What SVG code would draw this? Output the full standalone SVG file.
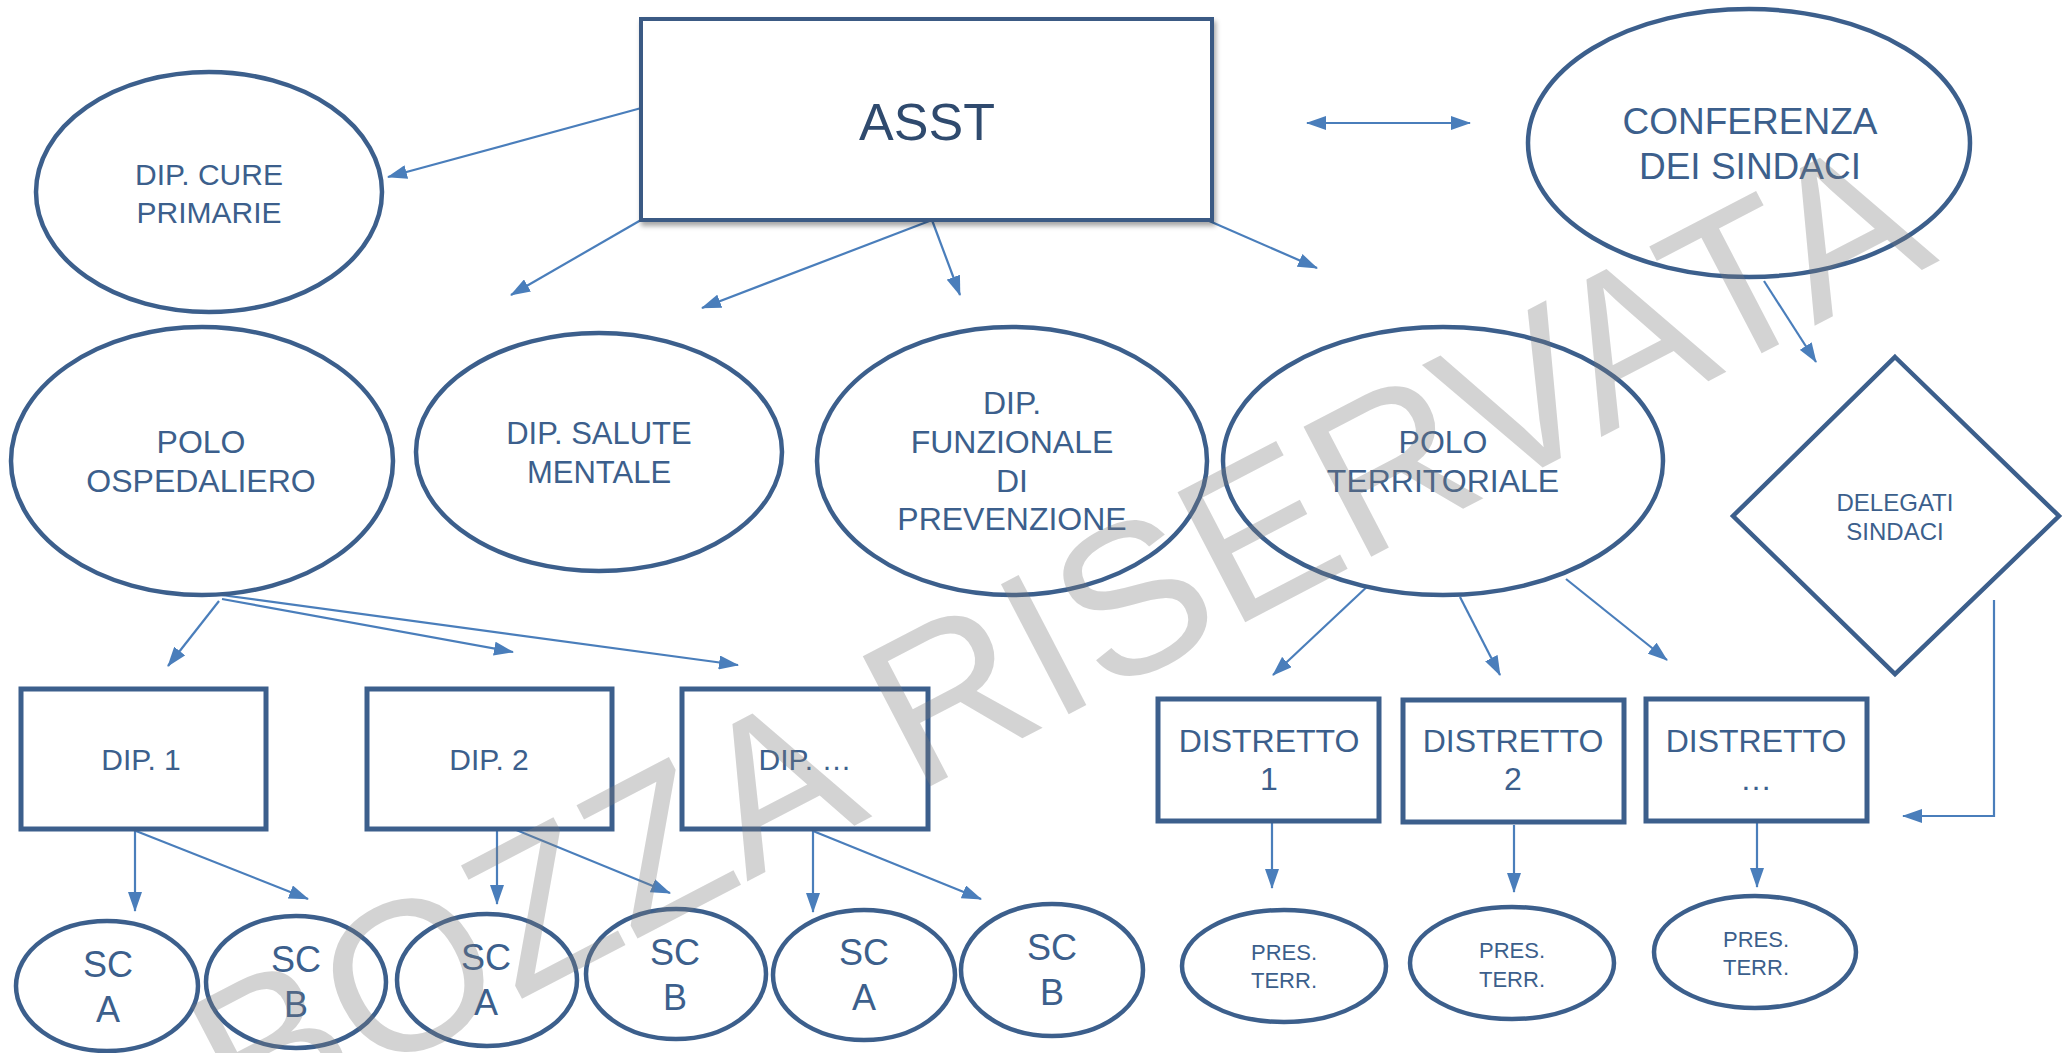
<svg xmlns="http://www.w3.org/2000/svg" width="2063" height="1053" viewBox="0 0 2063 1053">
<style>
.n{fill:#fff;stroke:#3C5F8C;stroke-width:4.5}
.b{fill:#fff;stroke:#3C5F8C;stroke-width:5}
.t{font-family:"Liberation Sans",Arial,sans-serif;fill:#3C5F8C;text-anchor:middle}
.c{stroke:#4A7EBB;stroke-width:2.2;fill:none;marker-end:url(#ah)}
.wm{font-family:"Liberation Sans",Arial,sans-serif;font-size:213px;fill:#7A7A7A;fill-opacity:0.33}
</style>
<defs>
<marker id="ah" viewBox="0 0 20 14" refX="19" refY="7" markerWidth="20" markerHeight="14" markerUnits="userSpaceOnUse" orient="auto">
<path d="M0,0 L20,7 L0,14 Z" fill="#4A7EBB"/>
</marker>
<marker id="as" viewBox="0 0 20 14" refX="1" refY="7" markerWidth="20" markerHeight="14" markerUnits="userSpaceOnUse" orient="auto">
<path d="M20,0 L0,7 L20,14 Z" fill="#4A7EBB"/>
</marker>
<filter id="sh" x="-5%" y="-5%" width="110%" height="115%">
<feDropShadow dx="2" dy="4" stdDeviation="2.5" flood-color="#000" flood-opacity="0.35"/>
</filter>
</defs>
<g id="connectors">
<line class="c" x1="645" y1="107" x2="388" y2="177"/>
<line class="c" x1="641" y1="220" x2="511" y2="295"/>
<line class="c" x1="932" y1="220" x2="702" y2="308"/>
<line class="c" x1="932" y1="220" x2="960" y2="295"/>
<line class="c" x1="1207" y1="220" x2="1317" y2="268"/>
<line class="c" x1="1307" y1="123" x2="1470" y2="123" marker-start="url(#as)"/>
<line class="c" x1="1764" y1="281" x2="1816" y2="362"/>
<polyline class="c" points="1994,600 1994,816 1903,816"/>
<line class="c" x1="1371" y1="583" x2="1273" y2="675"/>
<line class="c" x1="1460" y1="597" x2="1500" y2="675"/>
<line class="c" x1="1566" y1="579" x2="1667" y2="660"/>
<line class="c" x1="1272" y1="823" x2="1272" y2="888"/>
<line class="c" x1="1514" y1="825" x2="1514" y2="892"/>
<line class="c" x1="1757" y1="823" x2="1757" y2="887"/>
<line class="c" x1="219" y1="601" x2="168" y2="666"/>
<line class="c" x1="222" y1="599" x2="513" y2="652"/>
<line class="c" x1="214" y1="594" x2="738" y2="665"/>
<line class="c" x1="135" y1="831" x2="135" y2="911"/>
<line class="c" x1="136" y1="831" x2="308" y2="899"/>
<line class="c" x1="497" y1="823" x2="497" y2="904"/>
<line class="c" x1="499" y1="823" x2="670" y2="893"/>
<line class="c" x1="813" y1="831" x2="813" y2="912"/>
<line class="c" x1="813" y1="831" x2="981" y2="899"/>
</g>
<g id="asst">
<rect x="641" y="19" width="571" height="201" fill="#fff" stroke="#3A5A84" stroke-width="4" filter="url(#sh)"/>
<text class="t" x="927" y="140" font-size="52" style="fill:#2F4A6E">ASST</text>
</g>
<g id="dip-cure-primarie">
<ellipse class="n" cx="209" cy="192" rx="173" ry="120"/>
<text class="t" x="209" y="185" font-size="30">DIP. CURE</text>
<text class="t" x="209" y="223" font-size="30">PRIMARIE</text>
</g>
<g id="conferenza">
<ellipse class="n" cx="1749" cy="143" rx="221" ry="134"/>
<text class="t" x="1750" y="134" font-size="37">CONFERENZA</text>
<text class="t" x="1750" y="179" font-size="37">DEI SINDACI</text>
</g>
<g id="polo-ospedaliero">
<ellipse class="n" cx="202" cy="461" rx="191" ry="134"/>
<text class="t" x="201" y="453" font-size="32">POLO</text>
<text class="t" x="201" y="492" font-size="32">OSPEDALIERO</text>
</g>
<g id="dip-salute-mentale">
<ellipse class="n" cx="599" cy="452" rx="183" ry="119"/>
<text class="t" x="599" y="444" font-size="31">DIP. SALUTE</text>
<text class="t" x="599" y="483" font-size="31">MENTALE</text>
</g>
<g id="dip-prevenzione">
<ellipse class="n" cx="1012" cy="461" rx="195" ry="134"/>
<text class="t" x="1012" y="414" font-size="32">DIP.</text>
<text class="t" x="1012" y="453" font-size="32">FUNZIONALE</text>
<text class="t" x="1012" y="492" font-size="32">DI</text>
<text class="t" x="1012" y="530" font-size="32">PREVENZIONE</text>
</g>
<g id="polo-territoriale">
<ellipse class="n" cx="1443" cy="461" rx="220" ry="134"/>
<text class="t" x="1443" y="453" font-size="32">POLO</text>
<text class="t" x="1443" y="492" font-size="32">TERRITORIALE</text>
</g>
<g id="delegati-sindaci">
<polygon class="n" points="1895,357 2059,516 1895,674 1733,516"/>
<text class="t" x="1895" y="511" font-size="24">DELEGATI</text>
<text class="t" x="1895" y="540" font-size="24">SINDACI</text>
</g>
<g id="dip1">
<rect class="b" x="21" y="689" width="245" height="140"/>
<text class="t" x="141" y="770" font-size="30">DIP. 1</text>
</g>
<g id="dip2">
<rect class="b" x="367" y="689" width="245" height="140"/>
<text class="t" x="489" y="770" font-size="30">DIP. 2</text>
</g>
<g id="dip3">
<rect class="b" x="682" y="689" width="246" height="140"/>
<text class="t" x="805" y="770" font-size="30">DIP. …</text>
</g>
<g id="distretto1">
<rect class="b" x="1158" y="699" width="221" height="122"/>
<text class="t" x="1269" y="752" font-size="32">DISTRETTO</text>
<text class="t" x="1269" y="790" font-size="32">1</text>
</g>
<g id="distretto2">
<rect class="b" x="1403" y="700" width="221" height="122"/>
<text class="t" x="1513" y="752" font-size="32">DISTRETTO</text>
<text class="t" x="1513" y="790" font-size="32">2</text>
</g>
<g id="distretto3">
<rect class="b" x="1646" y="699" width="221" height="122"/>
<text class="t" x="1756" y="752" font-size="32">DISTRETTO</text>
<text class="t" x="1756" y="790" font-size="32">…</text>
</g>
<g id="sc1">
<ellipse class="n" cx="107" cy="986" rx="91" ry="65"/>
<text class="t" x="108" y="977" font-size="36">SC</text>
<text class="t" x="108" y="1022" font-size="36">A</text>
</g>
<g id="sc2">
<ellipse class="n" cx="296" cy="982" rx="90" ry="66"/>
<text class="t" x="296" y="972" font-size="36">SC</text>
<text class="t" x="296" y="1017" font-size="36">B</text>
</g>
<g id="sc3">
<ellipse class="n" cx="487" cy="980" rx="90" ry="66"/>
<text class="t" x="486" y="970" font-size="36">SC</text>
<text class="t" x="486" y="1015" font-size="36">A</text>
</g>
<g id="sc4">
<ellipse class="n" cx="676" cy="974" rx="90" ry="65"/>
<text class="t" x="675" y="965" font-size="36">SC</text>
<text class="t" x="675" y="1010" font-size="36">B</text>
</g>
<g id="sc5">
<ellipse class="n" cx="864" cy="975" rx="91" ry="65"/>
<text class="t" x="864" y="965" font-size="36">SC</text>
<text class="t" x="864" y="1010" font-size="36">A</text>
</g>
<g id="sc6">
<ellipse class="n" cx="1052" cy="970" rx="91" ry="66"/>
<text class="t" x="1052" y="960" font-size="36">SC</text>
<text class="t" x="1052" y="1005" font-size="36">B</text>
</g>
<g id="pres1">
<ellipse class="n" cx="1284" cy="966" rx="102" ry="56"/>
<text class="t" x="1284" y="960" font-size="22">PRES.</text>
<text class="t" x="1284" y="988" font-size="22">TERR.</text>
</g>
<g id="pres2">
<ellipse class="n" cx="1512" cy="963" rx="102" ry="56"/>
<text class="t" x="1512" y="958" font-size="22">PRES.</text>
<text class="t" x="1512" y="987" font-size="22">TERR.</text>
</g>
<g id="pres3">
<ellipse class="n" cx="1755" cy="952" rx="101" ry="56"/>
<text class="t" x="1756" y="947" font-size="22">PRES.</text>
<text class="t" x="1756" y="975" font-size="22">TERR.</text>
</g>
<text class="wm" transform="translate(243,1144) rotate(-27.5)">BOZZA RISERVATA</text>
</svg>
